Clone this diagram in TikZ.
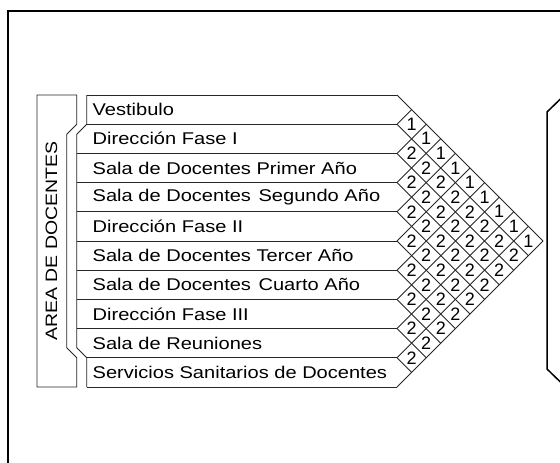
\documentclass[tikz,border=0pt]{standalone}
\usepackage{fontspec}
\setmainfont{Liberation Sans}
\newfontfamily\rowfont[FakeStretch=1.18]{Liberation Sans}
\begin{document}
\begin{tikzpicture}[x=1pt,y=-1pt,
  rowtext/.style={anchor=west, inner sep=0pt, font=\rowfont\fontsize{17}{18}\selectfont},
  cellnum/.style={inner sep=0pt, font=\fontsize{18}{18}\selectfont},
  arealabel/.style={inner sep=0pt, rotate=90, font=\rowfont\fontsize{16.5}{18}\selectfont},
  gridline/.style={draw=black!85, line width=0.9pt},
  framebox/.style={draw=black, line width=1.8pt}]
\useasboundingbox (0,0) rectangle (560,463);
\clip (0,0) rectangle (560,463);
\fill[white] (0,0) rectangle (560,463);
% outer frame and right bracket
\draw[framebox] (8,11) rectangle (620,520);
\draw[line width=1.5pt] (580,80) -- (547,112) -- (547,369) -- (580,401);
% AREA box
\draw[gridline] (37,95) -- (76.7,95) -- (76.7,124.2) -- (66.7,134.2) -- (66.7,347.8) -- (76.7,357.8) -- (76.7,387) -- (37,387) -- cycle;
\node[arealabel] (area) at (51.5,241) {AREA DE DOCENTES};
% table left edge
\draw[gridline] (86.7,95) -- (86.7,124.2) -- (76.7,134.2) -- (76.7,347.8) -- (86.7,357.8) -- (86.7,387);
% horizontal lines
\foreach \k in {0,1,9,10}{
  \pgfmathsetmacro\yy{95+29.2*\k}
  \draw[gridline] (86.7,\yy) -- (397,\yy);
}
\foreach \k in {2,...,8}{
  \pgfmathsetmacro\yy{95+29.2*\k}
  \draw[gridline] (76.7,\yy) -- (397,\yy);
}
% diagonal grid
\foreach \k in {0,...,10}{
  \pgfmathsetmacro\yy{95+29.2*\k}
  \pgfmathsetmacro\xd{397+(387-\yy)/2}
  \pgfmathsetmacro\yd{(\yy+387)/2}
  \pgfmathsetmacro\xu{397+(\yy-95)/2}
  \pgfmathsetmacro\yu{(\yy+95)/2}
  \coordinate (p\k) at (397,\yy);
  \draw[gridline] (p\k) -- (\xd,\yd);
  \draw[gridline] (p\k) -- (\xu,\yu);
}
% row labels
\foreach \t [count=\i from 0] in {Vestibulo,Dirección Fase I,Sala de Docentes Primer Año,Sala de Docentes\hspace{2pt} Segundo Año,Dirección Fase II,Sala de Docentes Tercer Año,Sala de Docentes\hspace{2pt} Cuarto Año,Dirección Fase III,Sala de Reuniones,Servicios Sanitarios de Docentes}{
  \pgfmathsetmacro\yc{95+29.2*(\i+0.5)}
  \node[rowtext] (r\i) at (92.5,\yc) {\t};
}
% cell numbers
\foreach \i in {0,...,8}{
  \pgfmathtruncatemacro\js{\i+1}
  \foreach \j in {\js,...,9}{
    \pgfmathsetmacro\xc{397+(\j-\i)*14.6}
    \pgfmathsetmacro\yc{95+14.6*(\i+\j+1)}
    \pgfmathtruncatemacro\v{\i==0 ? 1 : 2}
    \node[cellnum] (c\i-\j) at (\xc,\yc) {\v};
  }
}
\end{tikzpicture}
\end{document}
